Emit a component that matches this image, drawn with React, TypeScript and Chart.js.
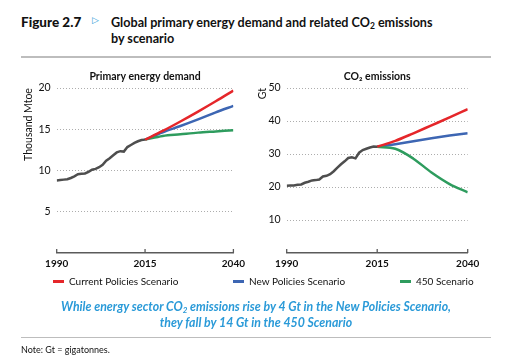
import React, { useEffect, useRef } from "react";
import { Chart, registerables } from "chart.js";
Chart.register(...registerables);

const histYears = [1990, 1991, 1992, 1993, 1994, 1995, 1996, 1997, 1998, 1999, 2000, 2001, 2002, 2003, 2004, 2005, 2006, 2007, 2008, 2009, 2010, 2011, 2012, 2013, 2014, 2015];
const energyHist = [8.8, 8.85, 8.9, 8.95, 9.1, 9.3, 9.55, 9.6, 9.65, 9.85, 10.1, 10.2, 10.4, 10.7, 11.2, 11.5, 11.85, 12.2, 12.35, 12.3, 12.85, 13.1, 13.35, 13.55, 13.7, 13.75];
const co2Hist = [20.4, 20.5, 20.5, 20.7, 20.8, 21.3, 21.6, 22.0, 22.1, 22.3, 23.2, 23.4, 23.9, 24.8, 25.9, 26.9, 27.8, 28.8, 29.0, 28.7, 30.4, 31.2, 31.6, 32.0, 32.3, 32.2];
const projYears = [2015, 2020, 2025, 2030, 2035, 2040];
const energyCPS = [13.75, 14.8, 15.95, 17.15, 18.4, 19.7];
const energyNPS = [13.75, 14.65, 15.4, 16.2, 17.05, 17.85];
const energy450 = [13.75, 14.2, 14.4, 14.6, 14.75, 14.9];
const co2CPS = [32.2, 34.0, 36.3, 38.7, 41.1, 43.6];
const co2NPS = [32.2, 33.0, 33.9, 34.8, 35.6, 36.3];
const co2450 = [32.2, 31.6, 28.6, 24.4, 20.9, 18.4];
const xTicks = [1990, 2015, 2040];
const energyTicks = [5, 10, 15, 20];
const co2Ticks = [10, 20, 30, 40, 50];
const panelTitles = ["Primary energy demand", "CO\u2082 emissions"];
const axisTitles = ["Thousand Mtoe", "Gt"];
const seriesNames = ["Current Policies Scenario", "New Policies Scenario", "450 Scenario"];

const COLORS = { hist: "#4e4e4e", cps: "#e5262a", nps: "#3d66b3", s450: "#2e9c5e" };
const FONT = "Lato, 'Open Sans', sans-serif";

const pts = (xs: number[], ys: number[]) => xs.map((x, i) => ({ x, y: ys[i] }));

const upTicks = {
  id: "upTicks",
  afterDraw(chart: any) {
    const sx = chart.scales.x;
    const ctx = chart.ctx;
    const b = chart.chartArea.bottom;
    ctx.save();
    ctx.strokeStyle = "#5a5a5a";
    ctx.lineWidth = 1.3;
    sx.ticks.forEach((t: any) => {
      const px = sx.getPixelForValue(t.value);
      ctx.beginPath();
      ctx.moveTo(px, b - 4);
      ctx.lineTo(px, b);
      ctx.stroke();
    });
    ctx.restore();
  },
};

function makeConfig(p: {
  title: string; axisTitle: string; hist: number[]; cps: number[]; nps: number[]; s450: number[];
  max: number; yTicks: number[]; padLeft: number; padRight: number; yWidth: number;
}) {
  const line = (data: any, color: string, cubic: boolean) => ({
    data, borderColor: color, borderWidth: 2.5, pointRadius: 0, fill: false,
    tension: 0, cubicInterpolationMode: cubic ? "monotone" : "default",
  });
  return {
    type: "line",
    data: {
      datasets: [
        line(pts(histYears, p.hist), COLORS.hist, false),
        line(pts(projYears, p.cps), COLORS.cps, true),
        line(pts(projYears, p.s450), COLORS.s450, true),
        line(pts(projYears, p.nps), COLORS.nps, true),
      ],
    },
    options: {
      animation: false,
      responsive: false,
      events: [],
      layout: { padding: { left: p.padLeft, right: p.padRight, top: 0, bottom: 0 } },
      plugins: {
        legend: { display: false },
        tooltip: { enabled: false },
        title: {
          display: true, text: p.title, color: "#111", fullSize: false,
          font: { family: FONT, size: 10.5, weight: "bold" },
          padding: { top: 10, bottom: 5.5 },
        },
      },
      scales: {
        x: {
          type: "linear", min: 1990, max: 2040,
          afterBuildTicks: (s: any) => { s.ticks = xTicks.map((v) => ({ value: v })); },
          afterFit: (s: any) => { s.height = 22; },
          grid: { display: false, drawTicks: false },
          border: { display: true, color: "#5a5a5a", width: 1.5 },
          ticks: {
            color: "#111", padding: 5, maxRotation: 0, font: { family: FONT, size: 10, weight: "bold" },
            callback: (v: any) => String(v),
          },
        },
        y: {
          type: "linear", min: 0, max: p.max,
          afterBuildTicks: (s: any) => { s.ticks = p.yTicks.map((v) => ({ value: v })); },
          afterFit: (s: any) => { s.width = p.yWidth; },
          grid: { color: "#adadad", lineWidth: 1, drawTicks: false },
          border: { display: false, dash: [1, 2] },
          ticks: { color: "#111", padding: 6, font: { family: FONT, size: 10.5 } },
          title: {
            display: true, text: p.axisTitle, align: "end", color: "#111",
            font: { family: FONT, size: 10.5 }, padding: { top: 2, bottom: 0 },
          },
        },
      },
    },
    plugins: [upTicks],
  } as any;
}

function Panel(props: { cfg: any; left: number; width: number }) {
  const ref = useRef<HTMLCanvasElement>(null);
  useEffect(() => {
    const c = new Chart(ref.current!, props.cfg);
    return () => c.destroy();
  }, []);
  return (
    <canvas ref={ref} width={props.width} height={215}
      style={{ position: "absolute", left: props.left, top: 60, width: props.width, height: 215 }} />
  );
}

export default function App() {
  const leftCfg = makeConfig({
    title: panelTitles[0], axisTitle: axisTitles[0], hist: energyHist, cps: energyCPS, nps: energyNPS, s450: energy450,
    max: 20, yTicks: energyTicks, padLeft: 20, padRight: 15, yWidth: 36.7,
  });
  const rightCfg = makeConfig({
    title: panelTitles[1], axisTitle: axisTitles[1], hist: co2Hist, cps: co2CPS, nps: co2NPS, s450: co2450,
    max: 50, yTicks: co2Ticks, padLeft: 4, padRight: 39.3, yWidth: 32.7,
  });
  const legendItems = [
    { name: seriesNames[0], color: COLORS.cps, x: 53 },
    { name: seriesNames[1], color: COLORS.nps, x: 233 },
    { name: seriesNames[2], color: COLORS.s450, x: 400 },
  ];
  const titleFont = "Lato, 'Open Sans', sans-serif";
  return (
    <div style={{ position: "absolute", left: 0, top: 0, width: 507, height: 363, background: "#fff", overflow: "hidden" }}>
      <div style={{ position: "absolute", left: 21, top: 14, fontFamily: titleFont, fontWeight: 900, fontSize: 13.5, lineHeight: "16px", color: "#111", whiteSpace: "nowrap" }}>
        Figure 2.7
      </div>
      <div style={{ position: "absolute", left: 92, top: 15, fontFamily: "'DejaVu Sans', sans-serif", fontSize: 9, color: "#2a9ad8" }}>&#9655;</div>
      <div style={{ position: "absolute", left: 111, top: 15, fontFamily: titleFont, fontWeight: 700, fontSize: 12.6, lineHeight: "16px", color: "#111", width: 380 }}>
        Global primary energy demand and related CO<sub style={{ fontSize: 8.5, verticalAlign: -2, lineHeight: 0 }}>2</sub> emissions<br />by scenario
      </div>
      <div style={{ position: "absolute", left: 21, top: 56, width: 470, height: 1.5, background: "#bdbdbd" }} />
      <Panel cfg={leftCfg} left={0} width={250} />
      <Panel cfg={rightCfg} left={250} width={257} />
      <div style={{ position: "absolute", left: 0, top: 273, width: 507, height: 16 }}>
        {legendItems.map((it, i) => (
          <React.Fragment key={"lg" + i}>
            <div style={{ position: "absolute", left: it.x, top: 7, width: 11, height: 2.5, background: it.color }} />
            <div style={{ position: "absolute", left: it.x + 16, top: 0, lineHeight: "16px", fontFamily: FONT, fontSize: 10, color: "#111", whiteSpace: "nowrap" }}>
              {it.name}
            </div>
          </React.Fragment>
        ))}
      </div>
      <div style={{ position: "absolute", left: 0, top: 299, width: 512, textAlign: "center", fontFamily: titleFont, fontWeight: 700, fontStyle: "italic", fontSize: 12.3, lineHeight: "15.5px", color: "#2a9ad8" }}>
        While energy sector CO<sub style={{ fontSize: 8, verticalAlign: -2, lineHeight: 0 }}>2</sub> emissions rise by 4 Gt in the New Policies Scenario,<br />
        they fall by 14 Gt in the 450 Scenario
      </div>
      <div style={{ position: "absolute", left: 21, top: 336.5, width: 470, height: 1.5, background: "#bdbdbd" }} />
      <div style={{ position: "absolute", left: 21, top: 343.5, fontFamily: FONT, fontSize: 9, color: "#111", whiteSpace: "nowrap" }}>
        Note: Gt = gigatonnes.
      </div>
    </div>
  );
}
